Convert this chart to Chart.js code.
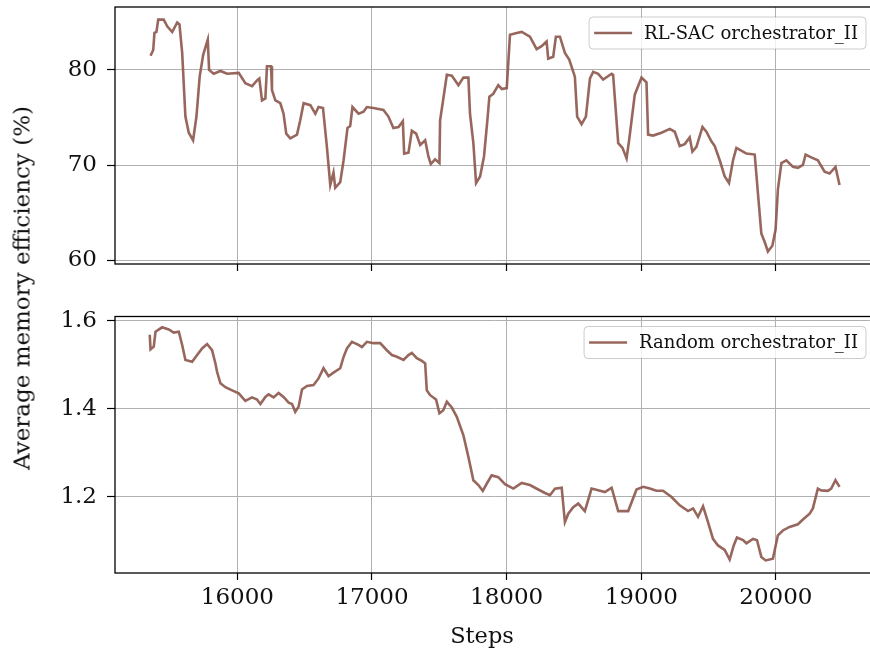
<!DOCTYPE html>
<html>
<head>
<meta charset="utf-8">
<script src="https://cdn.jsdelivr.net/npm/chart.js@4.4.1/dist/chart.umd.min.js"></script>
<style>
  html, body { margin: 0; padding: 0; background: #fff; overflow: hidden; }
  #wrap { position: relative; width: 870px; height: 650px; overflow: hidden; }
  canvas { position: absolute; left: 0; }
  .lbl { position: absolute; font-family: "DejaVu Serif", serif; color: #111; white-space: nowrap; line-height: 1; }
</style>
</head>
<body>
<div id="wrap">
  <canvas id="sacChart" width="880" height="290" style="top:0;width:880px;height:290px"></canvas>
  <canvas id="randomChart" width="880" height="360" style="top:290px;width:880px;height:360px"></canvas>
  <div class="lbl" id="ylabel" style="left:22px;top:288px;font-size:23px;transform:translate(-50%,-50%) rotate(-90deg)">Average memory efficiency (%)</div>
  <div class="lbl" id="xlabel" style="left:482px;top:635px;font-size:22.5px;transform:translate(-50%,-50%)">Steps</div>
</div>
<script>
const xTicks = [16000, 17000, 18000, 19000, 20000];
const sacTicks = [60, 70, 80];
const randomTicks = [1.2, 1.4, 1.6];

const sacLabel = "RL-SAC orchestrator_II";
const sacSteps = [15355, 15375, 15384, 15399, 15412, 15453, 15479, 15516, 15553, 15570,
  15590, 15614, 15639, 15671, 15696, 15720, 15746, 15780, 15790, 15824,
  15874, 15924, 16010, 16059, 16109, 16146, 16163, 16183, 16208, 16220,
  16250, 16257, 16282, 16319, 16343, 16363, 16393, 16443, 16467, 16492,
  16542, 16579, 16603, 16636, 16665, 16690, 16714, 16727, 16764, 16789,
  16818, 16838, 16855, 16900, 16937, 16962, 17011, 17085, 17122, 17159,
  17197, 17229, 17239, 17271, 17296, 17328, 17358, 17395, 17419, 17437,
  17469, 17501, 17506, 17530, 17556, 17593, 17642, 17679, 17716, 17728,
  17753, 17773, 17803, 17832, 17857, 17872, 17901, 17938, 17964, 18001,
  18025, 18075, 18112, 18173, 18223, 18260, 18297, 18309, 18346, 18366,
  18396, 18433, 18465, 18507, 18524, 18557, 18589, 18619, 18643, 18680,
  18717, 18780, 18791, 18829, 18861, 18891, 18910, 18952, 19002, 19039,
  19051, 19088, 19150, 19212, 19249, 19286, 19323, 19360, 19380, 19410,
  19455, 19484, 19521, 19546, 19583, 19620, 19652, 19682, 19707, 19756,
  19781, 19843, 19867, 19892, 19917, 19941, 19974, 19998, 20015, 20041,
  20078, 20127, 20164, 20201, 20221, 20263, 20312, 20362, 20399, 20443,
  20473];
const sacValues = [81.5, 82.1, 83.9, 84.0, 85.3, 85.3, 84.6, 84.0, 85.0, 84.8,
  81.8, 75.1, 73.4, 72.6, 75.1, 79.3, 81.6, 83.2, 80.0, 79.6,
  79.9, 79.6, 79.7, 78.6, 78.3, 78.9, 79.1, 76.8, 77.0, 80.4,
  80.4, 77.9, 76.8, 76.5, 75.4, 73.3, 72.8, 73.2, 74.7, 76.5,
  76.3, 75.4, 76.1, 76.0, 71.9, 67.9, 69.2, 67.6, 68.2, 70.5,
  73.9, 74.1, 76.1, 75.4, 75.6, 76.1, 76.0, 75.8, 75.1, 73.9,
  74.0, 74.6, 71.2, 71.3, 73.6, 73.3, 72.1, 72.6, 70.9, 70.1,
  70.6, 70.2, 74.7, 77.0, 79.5, 79.4, 78.4, 79.2, 79.2, 75.4,
  72.3, 68.1, 68.8, 70.9, 74.7, 77.2, 77.5, 78.4, 78.0, 78.1,
  83.7, 83.9, 84.0, 83.5, 82.2, 82.5, 83.0, 81.2, 81.4, 83.5,
  83.5, 81.8, 81.1, 79.3, 75.1, 74.3, 75.1, 79.1, 79.8, 79.6,
  79.0, 79.6, 79.5, 72.3, 71.8, 70.7, 72.6, 77.4, 79.2, 78.7,
  73.2, 73.1, 73.4, 73.8, 73.5, 72.0, 72.2, 72.9, 71.4, 71.9,
  74.0, 73.5, 72.5, 72.0, 70.5, 68.8, 68.1, 70.5, 71.8, 71.4,
  71.2, 71.1, 67.0, 62.8, 61.9, 60.9, 61.5, 63.2, 67.4, 70.2,
  70.5, 69.8, 69.7, 70.0, 71.1, 70.8, 70.5, 69.3, 69.1, 69.8,
  67.9];

const randomLabel = "Random orchestrator_II";
const randomSteps = [15349, 15355, 15379, 15392, 15441, 15490, 15527, 15565, 15590, 15614,
  15664, 15701, 15738, 15775, 15812, 15837, 15849, 15874, 15911, 15961,
  16010, 16059, 16109, 16146, 16171, 16208, 16232, 16269, 16306, 16343,
  16381, 16406, 16430, 16455, 16480, 16517, 16566, 16603, 16640, 16677,
  16714, 16764, 16789, 16814, 16851, 16900, 16925, 16962, 17011, 17061,
  17110, 17148, 17185, 17234, 17271, 17296, 17333, 17370, 17395, 17407,
  17432, 17476, 17501, 17530, 17556, 17593, 17630, 17679, 17716, 17753,
  17790, 17823, 17852, 17889, 17938, 17988, 18050, 18112, 18173, 18235,
  18285, 18322, 18359, 18409, 18433, 18458, 18495, 18532, 18581, 18631,
  18680, 18730, 18780, 18829, 18903, 18965, 19014, 19064, 19113, 19162,
  19225, 19286, 19348, 19385, 19422, 19459, 19496, 19533, 19570, 19620,
  19657, 19687, 19711, 19756, 19781, 19830, 19860, 19892, 19924, 19978,
  20015, 20052, 20102, 20164, 20201, 20251, 20275, 20312, 20337, 20386,
  20411, 20443, 20473];
const randomValues = [1.568, 1.535, 1.541, 1.575, 1.585, 1.580, 1.573, 1.575, 1.545, 1.511,
  1.507, 1.522, 1.537, 1.547, 1.533, 1.503, 1.484, 1.458, 1.449, 1.442,
  1.435, 1.418, 1.426, 1.421, 1.411, 1.427, 1.433, 1.426, 1.436, 1.427,
  1.414, 1.411, 1.393, 1.405, 1.444, 1.452, 1.454, 1.469, 1.492, 1.474,
  1.482, 1.492, 1.518, 1.537, 1.552, 1.545, 1.540, 1.552, 1.549, 1.549,
  1.533, 1.522, 1.518, 1.511, 1.522, 1.527, 1.515, 1.509, 1.503, 1.442,
  1.431, 1.421, 1.390, 1.397, 1.416, 1.403, 1.382, 1.340, 1.291, 1.238,
  1.227, 1.214, 1.230, 1.249, 1.245, 1.229, 1.219, 1.232, 1.227, 1.217,
  1.209, 1.204, 1.219, 1.221, 1.143, 1.162, 1.177, 1.185, 1.168, 1.219,
  1.215, 1.211, 1.221, 1.168, 1.168, 1.217, 1.223, 1.219, 1.214, 1.214,
  1.200, 1.181, 1.168, 1.174, 1.155, 1.179, 1.143, 1.105, 1.090, 1.080,
  1.058, 1.090, 1.108, 1.102, 1.095, 1.105, 1.102, 1.064, 1.056, 1.060,
  1.113, 1.124, 1.132, 1.138, 1.149, 1.162, 1.174, 1.219, 1.215, 1.214,
  1.219, 1.238, 1.223];

const lineColor = "rgba(140,86,75,0.9)";
const serif = "'DejaVu Serif', serif";

// box around the axes plus a matplotlib-like legend in the upper right
const frameLegend = {
  id: "frameLegend",
  afterDraw(chart) {
    const { ctx, chartArea: a } = chart;
    ctx.save();
    ctx.strokeStyle = "#000";
    ctx.lineWidth = 1.3;
    ctx.strokeRect(a.left, a.top, a.right - a.left, a.bottom - a.top);

    const label = chart.data.datasets[0].label;
    ctx.font = "18px " + serif;
    const w = ctx.measureText(label).width;
    const right = a.right - 8, top = a.top + 10, h = 32;
    const left = right - (w + 63);
    ctx.beginPath();
    ctx.roundRect(left, top, right - left, h, 4);
    ctx.fillStyle = "rgba(255,255,255,0.8)";
    ctx.fill();
    ctx.strokeStyle = "rgba(0,0,0,0.2)";
    ctx.lineWidth = 1;
    ctx.stroke();

    ctx.beginPath();
    ctx.moveTo(left + 5, top + h / 2);
    ctx.lineTo(left + 43, top + h / 2);
    ctx.strokeStyle = lineColor;
    ctx.lineWidth = 2.6;
    ctx.stroke();

    ctx.fillStyle = "#111";
    ctx.textBaseline = "middle";
    ctx.fillText(label, left + 55, top + h / 2 + 1);
    ctx.restore();
  }
};

function makeChart(id, label, steps, values, yTicks, yMin, yMax, opts) {
  return new Chart(document.getElementById(id), {
    type: "line",
    data: {
      datasets: [{
        label: label,
        data: steps.map((s, i) => ({ x: s, y: values[i] })),
        borderColor: lineColor,
        borderWidth: 2.6,
        pointRadius: 0,
        tension: 0,
        fill: false
      }]
    },
    options: {
      responsive: false,
      animation: false,
      devicePixelRatio: 1,
      layout: { padding: { top: opts.top, right: 6, left: 0, bottom: 0 } },
      plugins: { legend: { display: false }, tooltip: { enabled: false } },
      scales: {
        x: {
          type: "linear",
          min: 15091,
          max: 20729,
          afterBuildTicks: s => { s.ticks = xTicks.map(v => ({ value: v })); },
          afterFit: s => { s.height = opts.xHeight; s.paddingLeft = 0; s.paddingRight = 0; },
          border: { display: false },
          grid: { color: "#b0b0b0", lineWidth: 1, tickLength: 7, tickColor: "#000", tickWidth: 1.2 },
          ticks: {
            display: opts.xLabels,
            padding: 4,
            color: "#111",
            font: { family: serif, size: 23 },
            maxRotation: 0,
            callback: v => String(v)
          }
        },
        y: {
          min: yMin,
          max: yMax,
          afterBuildTicks: s => { s.ticks = yTicks.map(v => ({ value: v })); },
          afterFit: s => { s.width = 115; s.paddingTop = 0; s.paddingBottom = 0; },
          border: { display: false },
          grid: { color: "#b0b0b0", lineWidth: 1, tickLength: 8, tickColor: "#000", tickWidth: 1.2 },
          ticks: {
            padding: 10,
            color: "#111",
            font: { family: serif, size: 23 },
            callback: opts.fmt
          }
        }
      }
    },
    plugins: [frameLegend]
  });
}

makeChart("sacChart", sacLabel, sacSteps, sacValues, sacTicks, 59.58, 86.63,
  { top: 7, xHeight: 26, xLabels: false, fmt: v => String(v) });
makeChart("randomChart", randomLabel, randomSteps, randomValues, randomTicks, 1.0275, 1.6095,
  { top: 26.5, xHeight: 77, xLabels: true, fmt: v => v.toFixed(1) });
</script>
</body>
</html>
